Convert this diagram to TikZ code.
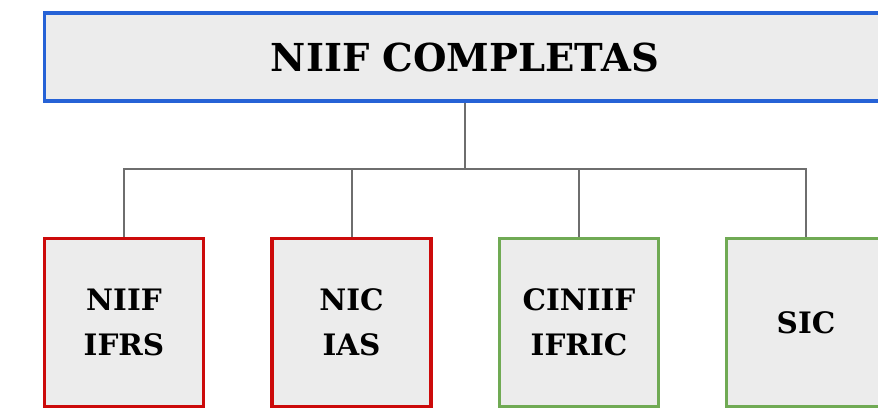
\documentclass[tikz,border=0pt]{standalone}
\usepackage{fontspec}
\setmainfont{DejaVu Serif}
\definecolor{bblue}{RGB}{38,98,214}
\definecolor{rred}{RGB}{204,10,10}
\definecolor{ggreen}{RGB}{112,170,84}
\definecolor{boxfill}{RGB}{236,236,236}
\definecolor{lgray}{RGB}{110,110,110}
\begin{document}
\begin{tikzpicture}[x=1pt,y=-1pt,
  box/.style={draw, line width=3.3pt, fill=boxfill, inner sep=0pt, align=center, font=\bfseries\fontsize{29.5}{45}\selectfont},
  smallbox/.style={box, minimum width=159pt, minimum height=168pt},
  conn/.style={draw=lgray, line width=2pt}]
\useasboundingbox (0,0) rectangle (878,420);
\fill[white] (0,0) rectangle (878,420);
\node[box, draw=bblue, minimum width=841pt, minimum height=88pt, font=\bfseries\fontsize{38.5}{40}\selectfont] (top) at (465,57) {NIIF COMPLETAS};
\node[smallbox, draw=rred] (b1) at (124,322.5) {NIIF\\IFRS};
\node[smallbox, draw=rred] (b2) at (351.5,322.5) {NIC\\IAS};
\node[smallbox, draw=ggreen] (b3) at (579,322.5) {CINIIF\\IFRIC};
\node[smallbox, draw=ggreen] (b4) at (806,322.5) {SIC};
\coordinate (j) at (465,169);
\coordinate (h1) at (b1.north |- j);
\coordinate (h2) at (b2.north |- j);
\coordinate (h3) at (b3.north |- j);
\coordinate (h4) at (b4.north |- j);
\draw[conn] (top.south) -- (j);
\draw[conn] (b1.north) -- (h1) -- (h4) -- (b4.north);
\draw[conn] (b2.north) -- (h2);
\draw[conn] (b3.north) -- (h3);
\end{tikzpicture}
\end{document}
